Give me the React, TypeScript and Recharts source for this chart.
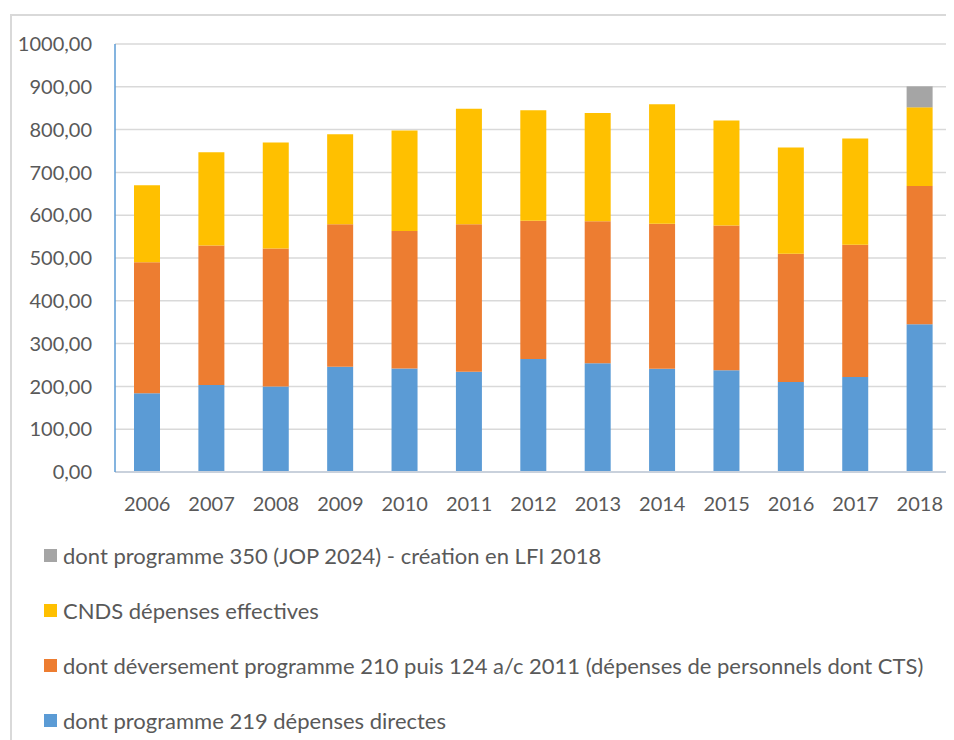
import React from 'react';
import { BarChart, Bar, XAxis, YAxis, CartesianGrid } from 'recharts';

const years = ['2006', '2007', '2008', '2009', '2010', '2011', '2012', '2013', '2014', '2015', '2016', '2017', '2018'];
const prog219 = [184, 203, 200, 246, 242, 234, 264, 254, 241, 238, 210, 222, 345];
const prog210 = [306, 326, 322, 333, 321, 345, 323, 332, 339, 338, 300, 309, 323];
const cnds = [180, 218, 248, 210, 235, 270, 258, 253, 279, 245, 248, 248, 184];
const prog350 = [0, 0, 0, 0, 0, 0, 0, 0, 0, 0, 0, 0, 49];
const yTicks = [0, 100, 200, 300, 400, 500, 600, 700, 800, 900, 1000];

const series = [
  { key: 'p219', name: 'dont programme 219 dépenses directes', color: '#5b9bd5', values: prog219 },
  { key: 'p210', name: 'dont déversement programme 210 puis 124 a/c 2011 (dépenses de personnels dont CTS)', color: '#ed7d31', values: prog210 },
  { key: 'cnds', name: 'CNDS dépenses effectives', color: '#ffc000', values: cnds },
  { key: 'p350', name: 'dont programme 350 (JOP 2024) - création en LFI 2018', color: '#a5a5a5', values: prog350 },
];

const data = years.map((year, i) => {
  const row: Record<string, any> = { year };
  series.forEach((s) => {
    row[s.key] = s.values[i];
  });
  return row;
});

const font = 'Lato, "Open Sans", sans-serif';
const textColor = '#595959';
const frameBlue = '#5b9bd5';

const fmt = (v: number) => v.toFixed(2).replace('.', ',');

function LegendList() {
  const items = [...series].reverse();
  return (
    <div style={{ position: 'absolute', left: 36, top: 520, fontFamily: font, fontSize: 22, color: textColor }}>
      {items.map((s) => (
        <div key={s.key} style={{ display: 'flex', alignItems: 'center', height: 55, whiteSpace: 'nowrap' }}>
          <span style={{ width: 13, height: 13, background: s.color, marginRight: 6, display: 'inline-block' }} />
          <span>{s.name}</span>
        </div>
      ))}
    </div>
  );
}

export default function App() {
  return (
    <div style={{ position: 'relative', width: 946, height: 732, overflow: 'hidden' }}>
      <div
        style={{
          position: 'absolute',
          left: 2,
          top: 6,
          right: -20,
          bottom: -20,
          border: '2px solid #d9d9d9',
        }}
      />
      <BarChart
        width={946}
        height={732}
        data={data}
        margin={{ top: 36, right: 2, left: 0, bottom: 228 }}
        barSize={26}
      >
        <CartesianGrid vertical={false} stroke="#d9d9d9" strokeWidth={1.5} />
        <XAxis
          dataKey="year"
          height={40}
          axisLine={{ stroke: '#c9d1dc', strokeWidth: 2 }}
          tickLine={false}
          tickMargin={19}
          tick={{ fill: textColor, fontSize: 20, fontFamily: font }}
        />
        <XAxis xAxisId="top" dataKey="year" orientation="top" height={0} tick={false} tickLine={false} axisLine={{ stroke: frameBlue, strokeWidth: 1.5 }} />
        <YAxis
          domain={[0, 1000]}
          ticks={yTicks}
          width={107}
          axisLine={{ stroke: frameBlue, strokeWidth: 1.5 }}
          tickLine={false}
          tickMargin={17}
          tickFormatter={fmt}
          tick={{ fill: textColor, fontSize: 20, fontFamily: font }}
        />
        <YAxis yAxisId="right" orientation="right" domain={[0, 1000]} width={0} tick={false} tickLine={false} axisLine={{ stroke: frameBlue, strokeWidth: 1.5 }} />
        {series.map((s) => (
          <Bar key={s.key} dataKey={s.key} name={s.name} stackId="a" fill={s.color} isAnimationActive={false} />
        ))}
      </BarChart>
      <LegendList />
    </div>
  );
}
